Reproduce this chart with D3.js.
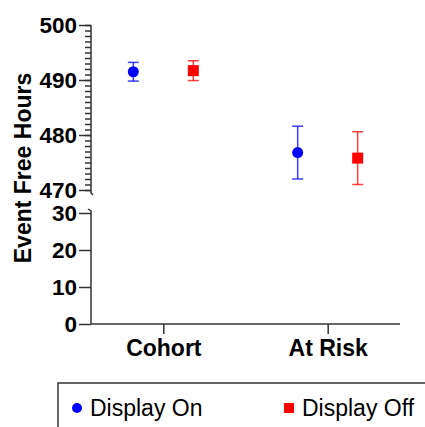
<!DOCTYPE html>
<html>
<head>
  <meta charset="utf-8" />
  <title>Event Free Hours</title>
  <script src="https://d3js.org/d3.v7.min.js"></script>
</head>
<body>
  <div id='graph'></div>
</body>
<style>
  body { margin: 0; background: #fff; }
  svg { font-family: 'Liberation Sans', Arial, sans-serif; }
</style>
<script>
  // values (mean and error half-width)
  var categories = ['Cohort', 'At Risk']
  var seriesNames = ['Display On', 'Display Off']
  var displayOn = [491.5, 476.8]
  var displayOnErr = [1.7, 4.8]
  var displayOff = [491.7, 475.8]
  var displayOffErr = [1.8, 4.8]
  var upperTicks = [470, 480, 490, 500]
  var lowerTicks = [0, 10, 20, 30]

  var width = 425, height = 427
  var axisX = 91
  var axisColor = '#333'

  const svg = d3.select('#graph').append('svg')
    .attr('width', width)
    .attr('height', height)

  // x is shared, y is split in two pieces
  var xScale = d3.scalePoint().domain(categories).range([axisX, 400]).padding(0.44)
  var yTop = d3.scaleLinear().domain([470, 500]).range([190, 25])
  var yBottom = d3.scaleLinear().domain([0, 30]).range([324, 213])
  var offset = 30

  // upper piece: minor ticks every 1, major every 10
  const gTop = svg.append('g').attr('transform', 'translate(' + axisX + ',0)')
  gTop.call(d3.axisLeft(yTop).tickValues(d3.range(470, 501, 1)).tickSize(6).tickFormat(''))
  gTop.call(function (g) {
    g.append('g').call(d3.axisLeft(yTop).tickValues(upperTicks).tickSize(12).tickPadding(2))
  })

  const gBottom = svg.append('g').attr('transform', 'translate(' + axisX + ',0)')
  gBottom.call(d3.axisLeft(yBottom).tickValues(lowerTicks).tickSize(12).tickPadding(2))

  svg.selectAll('.domain').remove()
  svg.selectAll('.tick line').attr('stroke', axisColor).attr('stroke-width', 1.5)
  svg.selectAll('.tick text')
    .attr('fill', '#000')
    .attr('font-size', 22.5)
    .attr('font-weight', 'bold')

  // axis spines with little break marks
  var topEnd = yTop(470) + 3
  var bottomStart = yBottom(30) - 2
  svg.append('path')
    .attr('fill', 'none').attr('stroke', axisColor).attr('stroke-width', 1.5)
    .attr('d', 'M' + axisX + ',' + yTop(500) + 'V' + topEnd + 'l2,2')
  svg.append('path')
    .attr('fill', 'none').attr('stroke', axisColor).attr('stroke-width', 1.5)
    .attr('d', 'M' + (axisX - 3) + ',' + (bottomStart - 2) + 'l3,2V' + yBottom(0))

  // x axis
  const gx = svg.append('g').attr('transform', 'translate(0,' + yBottom(0) + ')')
    .call(d3.axisBottom(xScale).tickSize(10).tickPadding(6))
  gx.select('.domain').attr('stroke', axisColor).attr('stroke-width', 1.5)
    .attr('d', 'M' + axisX + ',0H400')
  gx.selectAll('.tick line').attr('stroke', axisColor).attr('stroke-width', 1.5)
  gx.selectAll('.tick text')
    .attr('fill', '#000')
    .attr('font-size', 23)
    .attr('font-weight', 'bold')

  // y label
  svg.append('text')
    .attr('transform', 'translate(31,168) rotate(-90)')
    .attr('text-anchor', 'middle')
    .attr('font-size', 23)
    .attr('font-weight', 'bold')
    .text('Event Free Hours')

  var series = [
    {name: seriesNames[0], values: displayOn, errs: displayOnErr, color: '#0000ff', dx: -offset, shape: 'circle'},
    {name: seriesNames[1], values: displayOff, errs: displayOffErr, color: '#ff0000', dx: offset, shape: 'square'}
  ]

  series.forEach(function (s) {
    var pts = categories.map(function (c, i) {
      return {cat: c, v: s.values[i], e: s.errs[i]}
    })
    const g = svg.append('g')
    // error bars
    const eb = g.selectAll('.err').data(pts).enter().append('g')
      .attr('stroke', s.color).attr('stroke-opacity', 0.75).attr('stroke-width', 1.5)
    eb.append('line')
      .attr('x1', function (d) { return xScale(d.cat) + s.dx })
      .attr('x2', function (d) { return xScale(d.cat) + s.dx })
      .attr('y1', function (d) { return yTop(d.v + d.e) })
      .attr('y2', function (d) { return yTop(d.v - d.e) })
    ;[1, -1].forEach(function (sign) {
      eb.append('line')
        .attr('x1', function (d) { return xScale(d.cat) + s.dx - 5.5 })
        .attr('x2', function (d) { return xScale(d.cat) + s.dx + 5.5 })
        .attr('y1', function (d) { return yTop(d.v + sign * d.e) })
        .attr('y2', function (d) { return yTop(d.v + sign * d.e) })
    })
    if (s.shape === 'circle') {
      g.selectAll('circle').data(pts).enter().append('circle')
        .attr('cx', function (d) { return xScale(d.cat) + s.dx })
        .attr('cy', function (d) { return yTop(d.v) })
        .attr('r', 5.5)
        .attr('fill', s.color)
    } else {
      g.selectAll('rect').data(pts).enter().append('rect')
        .attr('x', function (d) { return xScale(d.cat) + s.dx - 5.5 })
        .attr('y', function (d) { return yTop(d.v) - 5.5 })
        .attr('width', 11)
        .attr('height', 11)
        .attr('fill', s.color)
    }
  })

  // legend box, runs off the right and bottom edge
  const legend = svg.append('g')
  legend.append('rect')
    .attr('x', 58).attr('y', 383)
    .attr('width', 400).attr('height', 80)
    .attr('fill', 'none').attr('stroke', axisColor).attr('stroke-width', 1.5)
  legend.append('circle').attr('cx', 77).attr('cy', 408).attr('r', 5).attr('fill', '#0000ff')
  legend.append('text').attr('x', 90).attr('y', 416).attr('font-size', 23).text(seriesNames[0])
  legend.append('rect').attr('x', 284).attr('y', 403).attr('width', 10).attr('height', 10).attr('fill', '#ff0000')
  legend.append('text').attr('x', 302).attr('y', 416).attr('font-size', 23).text(seriesNames[1])
</script>
</html>
